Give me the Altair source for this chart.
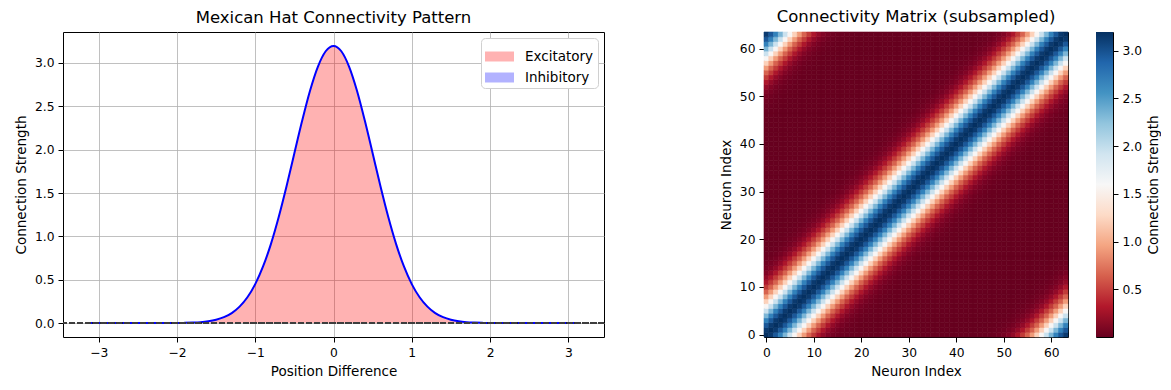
import altair as alt
import pandas as pd

# ---- Left panel: connection profile ----
pos_diff = [-3.14, -2.5, -2.0, -1.9, -1.8, -1.7, -1.6, -1.5, -1.4, -1.3, -1.2, -1.1,
            -1.0, -0.9, -0.8, -0.7, -0.6, -0.5, -0.4, -0.3, -0.2, -0.1, 0.0,
            0.1, 0.2, 0.3, 0.4, 0.5, 0.6, 0.7, 0.8, 0.9, 1.0,
            1.1, 1.2, 1.3, 1.4, 1.5, 1.6, 1.7, 1.8, 1.9, 2.0, 2.5, 3.14]
strength = [0.0, 0.0, 0.001, 0.003, 0.006, 0.011, 0.021, 0.039, 0.069, 0.116, 0.19, 0.298,
            0.45, 0.653, 0.911, 1.223, 1.578, 1.958, 2.335, 2.679, 2.955, 3.134, 3.196,
            3.134, 2.955, 2.679, 2.335, 1.958, 1.578, 1.223, 0.911, 0.653, 0.45,
            0.298, 0.19, 0.116, 0.069, 0.039, 0.021, 0.011, 0.006, 0.003, 0.001, 0.0, 0.0]

legend_kinds = ["Excitatory", "Inhibitory"]
legend_colors = ["red", "blue"]

# ---- Right panel: strength by circular index distance (0..32) read from the matrix ----
n_neurons = 64
ring_profile = [3.196, 3.134, 2.955, 2.68, 2.33, 1.955, 1.575, 1.22, 0.91, 0.65, 0.45,
                0.30, 0.19, 0.115, 0.068, 0.038, 0.02, 0.011, 0.006, 0.003, 0.0015,
                0.0007, 0.0003, 0.0001, 0.0, 0.0, 0.0, 0.0, 0.0, 0.0, 0.0, 0.0, 0.0]
neuron_ticks = [0, 10, 20, 30, 40, 50, 60]
cbar_ticks = [0.5, 1.0, 1.5, 2.0, 2.5, 3.0]
cbar_range = [0.0, 3.196]
rdbu_colors = ["#67001f", "#b2182b", "#d6604d", "#f4a582", "#fddbc7", "#f7f7f7",
               "#d1e5f0", "#92c5de", "#4393c3", "#2166ac", "#053061"]

FONT = "DejaVu Sans"
LFS = 12.3   # tick labels
FS = 13.5    # axis titles / legend
TFS = 16.5   # panel titles

profile_df = pd.DataFrame({"x": pos_diff, "y": strength, "kind": "Excitatory"})

xscale = alt.Scale(domain=[-3.456, 3.456], nice=False, zero=False)
yscale = alt.Scale(domain=[-0.16, 3.356], nice=False, zero=False)

area = alt.Chart(profile_df).mark_area(interpolate="monotone", fillOpacity=0.3).encode(
    x=alt.X("x:Q", scale=xscale,
            axis=alt.Axis(title="Position Difference", values=[-3, -2, -1, 0, 1, 2, 3],
                          format="d")),
    y=alt.Y("y:Q", scale=yscale,
            axis=alt.Axis(title="Connection Strength",
                          values=[0, 0.5, 1.0, 1.5, 2.0, 2.5, 3.0], format=".1f")),
    color=alt.Color("kind:N",
                    scale=alt.Scale(domain=legend_kinds, range=legend_colors),
                    legend=alt.Legend(title=None, orient="top-right", offset=6,
                                      symbolType="M-1,-0.345L1,-0.345L1,0.345L-1,0.345Z",
                                      symbolSize=841, symbolOpacity=0.3,
                                      symbolStrokeWidth=0, labelFontSize=FS,
                                      labelFont=FONT, rowPadding=0, padding=4,
                                      strokeColor="#d0d0d0", cornerRadius=4,
                                      fillColor="white", labelOffset=11)),
)
line = alt.Chart(profile_df).mark_line(interpolate="monotone", color="blue",
                                       strokeWidth=2).encode(
    x=alt.X("x:Q", scale=xscale), y=alt.Y("y:Q", scale=yscale))
zero_rule = alt.Chart(profile_df).mark_rule(color="#404040", opacity=0.6,
                                            strokeWidth=1.5,
                                            strokeDash=[5.5, 2.4]).encode(
    y=alt.datum(0))

left = alt.layer(area, line, zero_rule).properties(
    width=541, height=305,
    title=alt.Title("Mexican Hat Connectivity Pattern", fontSize=TFS, fontWeight="normal",
                    font=FONT, offset=6),
)

rows = []
for i in range(n_neurons):
    for j in range(n_neurons):
        d = abs(i - j)
        d = min(d, n_neurons - d)
        rows.append({"x0": j - 0.5, "x1": j + 0.5, "y0": i - 0.5, "y1": i + 0.5,
                     "v": ring_profile[d]})
mat_df = pd.DataFrame(rows)

vmin, vmax = cbar_range
stops = [vmin + (vmax - vmin) * k / 10 for k in range(11)]
cscale = alt.Scale(domain=stops, range=rdbu_colors)

nscale = alt.Scale(domain=[-0.5, 63.5], nice=False, zero=False)
heat = alt.Chart(mat_df).mark_rect(strokeWidth=0.6).encode(
    x=alt.X("x0:Q", scale=nscale,
            axis=alt.Axis(title="Neuron Index", values=neuron_ticks, grid=False)),
    x2="x1:Q",
    y=alt.Y("y0:Q", scale=nscale,
            axis=alt.Axis(title="Neuron Index", values=neuron_ticks, grid=False)),
    y2="y1:Q",
    fill=alt.Fill("v:Q", scale=cscale, legend=None),
    stroke=alt.Stroke("v:Q", scale=cscale, legend=None),
).properties(
    width=304, height=305,
    title=alt.Title("Connectivity Matrix (subsampled)", fontSize=TFS, fontWeight="normal",
                    font=FONT, offset=6),
)

gradient = alt.LinearGradient(
    gradient="linear",
    stops=[alt.GradientStop(color=c, offset=k / 10) for k, c in enumerate(rdbu_colors)],
    x1=0, x2=0, y1=1, y2=0,
)
cbar_df = pd.DataFrame({"lo": [vmin], "hi": [vmax]})
cbar = alt.Chart(cbar_df).mark_rect(color=gradient).encode(
    y=alt.Y("lo:Q", scale=alt.Scale(domain=cbar_range, nice=False, zero=False),
            axis=alt.Axis(orient="right", values=cbar_ticks, format=".1f",
                          title="Connection Strength", titleAngle=270,
                          titleBaseline="top", grid=False, titlePadding=5)),
    y2="hi:Q",
    x=alt.value(0),
    x2=alt.value(17),
).properties(width=17, height=305)

right = alt.hconcat(heat, cbar, spacing=26)

chart = alt.hconcat(left, right, spacing=112).resolve_scale(
    color="independent", fill="independent", stroke="independent"
).properties(
    padding={"left": 5, "top": 0, "right": 0, "bottom": 5}
).configure(
    font=FONT
).configure_view(
    stroke="black", strokeWidth=1
).configure_axis(
    labelFont=FONT, titleFont=FONT, labelFontSize=LFS, titleFontSize=FS,
    titleFontWeight="normal", labelColor="black", titleColor="black",
    domain=False, tickColor="black", tickSize=5, labelPadding=4, titlePadding=6,
    gridColor="#b0b0b0", gridWidth=0.8, grid=True
).configure_title(color="black")

chart.save("out.html", embed_options={"renderer": "svg", "actions": False})
